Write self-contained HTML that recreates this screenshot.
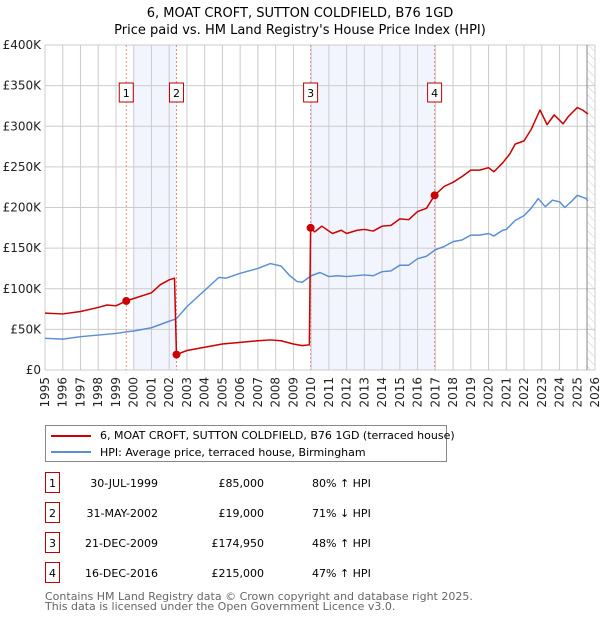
<!DOCTYPE html>
<html><head><meta charset="utf-8"><style>
body{margin:0;background:#fff;font-family:"DejaVu Sans","Liberation Sans",sans-serif;}
svg text{font-family:"DejaVu Sans","Liberation Sans",sans-serif;}
</style></head><body>
<svg id="c" width="600" height="620" xmlns="http://www.w3.org/2000/svg"></svg>
<script>
const hpiYears=[1995,1996,1997,1998,1999,1999.6,2000,2001,2002,2002.4,2003,2004,2004.8,2005.2,2006,2007,2007.7,2008.3,2008.8,2009.2,2009.5,2010,2010.5,2011,2011.5,2012,2013,2013.5,2014,2014.5,2015,2015.5,2016,2016.5,2017,2017.5,2018,2018.5,2019,2019.5,2020,2020.3,2020.8,2021,2021.5,2022,2022.4,2022.8,2023.2,2023.6,2024,2024.3,2024.7,2025,2025.5,2025.6];
const hpiValues=[39,38,41,43,45,47,48,52,60,63,78,98,114,113,119,125,131,128,116,109,108,116,120,115,116,115,117,116,121,122,129,129,137,140,148,152,158,160,166,166,168,165,172,173,184,190,199,211,201,209,207,200,208,215,211,208];
const priceYears=[1995,1996,1997,1998,1998.5,1999,1999.58,2000,2001,2001.5,2002,2002.3,2002.41,2003,2004,2005,2006,2007,2007.7,2008.3,2009,2009.5,2009.9,2009.97,2010.2,2010.6,2011.2,2011.7,2012,2012.6,2013,2013.5,2014,2014.5,2015,2015.5,2016,2016.5,2016.96,2017.5,2018,2018.5,2019,2019.5,2020,2020.3,2020.8,2021.2,2021.5,2022,2022.4,2022.9,2023.3,2023.7,2024.2,2024.5,2025,2025.3,2025.6];
const priceValues=[70,69,72,77,80,79,85,88,95,105,111,113,19,24,28,32,34,36,37,36,32,30,31,174.95,170,177,168,172,168,172,173,171,177,178,186,185,195,199,215,226,231,238,246,246,249,244,255,266,278,282,296,320,302,314,303,312,323,320,315];
const saleYears=[1999.58,2002.41,2009.97,2016.96];
const saleValues=[85,19,174.95,215];
const saleLabels=["1","2","3","4"];
const yTicks=[0,50,100,150,200,250,300,350,400];
const yTickLabels=["£0","£50K","£100K","£150K","£200K","£250K","£300K","£350K","£400K"];
const xTicks=[1995,1996,1997,1998,1999,2000,2001,2002,2003,2004,2005,2006,2007,2008,2009,2010,2011,2012,2013,2014,2015,2016,2017,2018,2019,2020,2021,2022,2023,2024,2025,2026];

const svg=document.getElementById('c');const NS="http://www.w3.org/2000/svg";
const X0=45,X1=595,Y0=370,Y1=45;
const xs=v=>X0+(v-1995)/(2026-1995)*(X1-X0);
const ys=v=>Y0-v/400*(Y0-Y1);
function mk(t,a,p){const e=document.createElementNS(NS,t);for(const k in a)e.setAttribute(k,a[k]);(p||svg).appendChild(e);return e;}
const defs=mk('defs',{});
const pat=mk('pattern',{id:'h',width:6,height:6,patternUnits:'userSpaceOnUse',patternTransform:'rotate(-45)'},defs);
mk('line',{x1:0,y1:0,x2:0,y2:6,stroke:'#ccc','stroke-width':1},pat);

let t=mk('text',{x:300,y:17,'text-anchor':'middle','font-size':13});t.textContent="6, MOAT CROFT, SUTTON COLDFIELD, B76 1GD";


t=mk('text',{x:300,y:34,'text-anchor':'middle','font-size':13});t.textContent="Price paid vs. HM Land Registry's House Price Index (HPI)";



let r=mk('rect',{x:xs(2000),y:Y1,width:xs(saleYears[1])-xs(2000),height:Y0-Y1,fill:'#f2f5fd'});


r=mk('rect',{x:xs(saleYears[2]),y:Y1,width:xs(saleYears[3])-xs(saleYears[2]),height:Y0-Y1,fill:'#f2f5fd'});


r=mk('rect',{x:xs(2025.55),y:Y1,width:X1-xs(2025.55),height:Y0-Y1,fill:'url(#h)'});



xTicks.forEach(v=>{const l=mk('line',{x1:xs(v),x2:xs(v),y1:Y1,y2:Y0,stroke:'#ccc','stroke-width':1});


const tx=mk('text',{transform:`translate(${xs(v)+4},${Y0+7}) rotate(-90)`,'text-anchor':'end','font-size':12,fill:'#222'});tx.textContent=v;

});
yTicks.forEach((v,i)=>{const l=mk('line',{x1:X0,x2:X1,y1:ys(v),y2:ys(v),stroke:'#ccc','stroke-width':1});


const tx=mk('text',{x:X0-4,y:ys(v)+4,'text-anchor':'end','font-size':12,fill:'#222'});tx.textContent=yTickLabels[i];

});
let l=mk('line',{x1:xs(2025.55),x2:xs(2025.55),y1:Y1,y2:Y0,stroke:'#888'});



saleYears.forEach((v,i)=>{const d=mk('line',{x1:xs(v),x2:xs(v),y1:Y1,y2:Y0,stroke:'#e88','stroke-dasharray':'2,2','stroke-width':1});

});

function path(xa,va,col,name){const p=mk('polyline',{points:xa.map((x,i)=>xs(x)+','+ys(va[i])).join(' '),fill:'none',stroke:col,'stroke-width':1.5,'stroke-linejoin':'round'});

}
path(hpiYears,hpiValues,'#5b8fd4','hpi-line');
path(priceYears,priceValues,'#cc0000','price-line');

saleYears.forEach((v,i)=>{const c=mk('circle',{cx:xs(v),cy:ys(saleValues[i]),r:4,fill:'#cc0000'});


const g=mk('g',{});


mk('rect',{x:xs(v)-7,y:83,width:14,height:19,fill:'#fff',stroke:'#b00'},g);
const tx=mk('text',{x:xs(v),y:97,'text-anchor':'middle','font-size':11},g);tx.textContent=saleLabels[i];});

const lg=mk('g',{});


mk('rect',{x:45.5,y:425.5,width:401,height:36,fill:'#fff',stroke:'#888'},lg);
mk('line',{x1:51,x2:91,y1:436,y2:436,stroke:'#cc0000','stroke-width':2},lg);
mk('line',{x1:51,x2:91,y1:452,y2:452,stroke:'#5b8fd4','stroke-width':2},lg);
t=mk('text',{x:100,y:439,'font-size':11},lg);t.textContent="6, MOAT CROFT, SUTTON COLDFIELD, B76 1GD (terraced house)";


t=mk('text',{x:100,y:456,'font-size':11},lg);t.textContent="HPI: Average price, terraced house, Birmingham";



const rowDates=["30-JUL-1999","31-MAY-2002","21-DEC-2009","16-DEC-2016"];
const rowPrices=["£85,000","£19,000","£174,950","£215,000"];
const rowDiffs=["80% ↑ HPI","71% ↓ HPI","48% ↑ HPI","47% ↑ HPI"];
rowDates.forEach((d,i)=>{const y=483+i*30;const g=mk('g',{});


mk('rect',{x:45.5,y:y-10.5,width:14,height:20,fill:'#fff',stroke:'#b00'},g);
let a=mk('text',{x:52.5,y:y+4,'text-anchor':'middle','font-size':11},g);a.textContent=saleLabels[i];
a=mk('text',{x:158,y:y+4,'text-anchor':'end','font-size':11},g);a.textContent=d;
a=mk('text',{x:264,y:y+4,'text-anchor':'end','font-size':11},g);a.textContent=rowPrices[i];
a=mk('text',{x:312,y:y+4,'font-size':11},g);a.textContent=rowDiffs[i];});
t=mk('text',{x:45,y:600,'font-size':11,fill:'#666'});t.textContent="Contains HM Land Registry data © Crown copyright and database right 2025.";


t=mk('text',{x:45,y:610,'font-size':11,fill:'#666'});t.textContent="This data is licensed under the Open Government Licence v3.0.";


</script>
</body></html>
